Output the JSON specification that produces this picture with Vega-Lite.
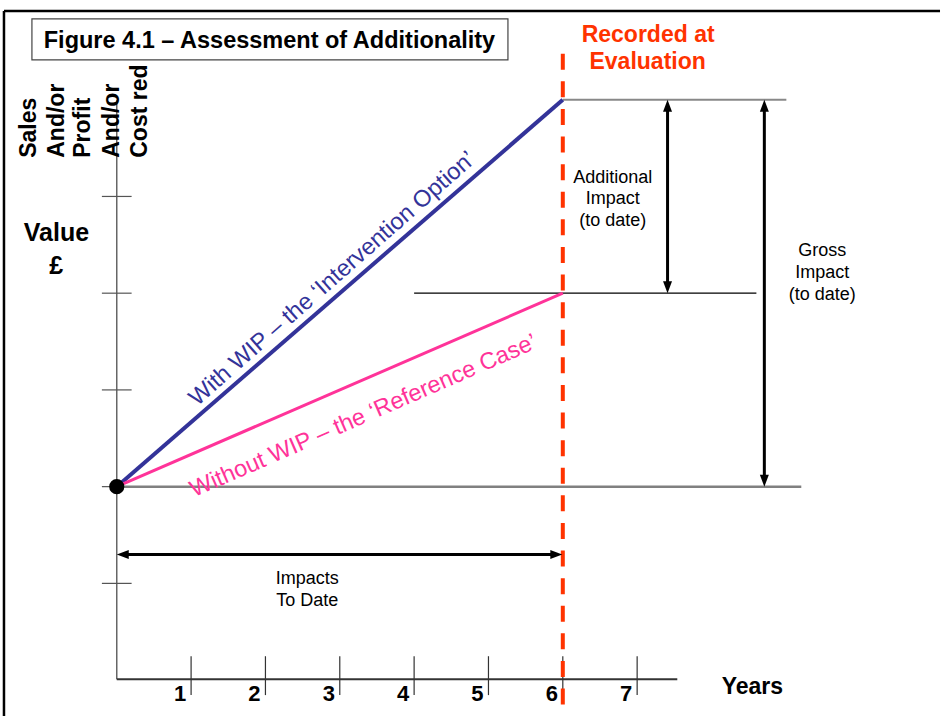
{
  "$schema": "https://vega.github.io/schema/vega-lite/v6.json",
  "width": 942,
  "height": 718,
  "padding": 0,
  "autosize": {"type": "fit", "contains": "padding"},
  "background": "white",
  "config": {"view": {"stroke": null}, "font": "Liberation Sans"},
  "datasets": {
    "border": [
      {"x": -1.517, "y": 4.918, "x2": 11.074, "y2": 4.918},
      {"x": -1.517, "y": 4.918, "x2": -1.517, "y2": -2.371}
    ],
    "titlebox": [{"x": -1.141, "y": 4.835, "x2": 5.262, "y2": 4.412}],
    "yaxis": [{"x": 0, "y": 4.0, "x2": 0, "y2": -1.99}],
    "xaxis": [{"x": 0, "y": -1.99, "x2": 7.54, "y2": -1.99}],
    "yticks": [
      {"x": -0.2, "y": 3, "x2": 0.2, "y2": 3},
      {"x": -0.2, "y": 2, "x2": 0.2, "y2": 2},
      {"x": -0.2, "y": 1, "x2": 0.2, "y2": 1},
      {"x": -0.2, "y": 0, "x2": 0.2, "y2": 0},
      {"x": -0.2, "y": -1, "x2": 0.2, "y2": -1}
    ],
    "xticks": [
      {"x": 1, "y": -1.753, "x2": 1, "y2": -2.155},
      {"x": 2, "y": -1.753, "x2": 2, "y2": -2.155},
      {"x": 3, "y": -1.753, "x2": 3, "y2": -2.155},
      {"x": 4, "y": -1.753, "x2": 4, "y2": -2.155},
      {"x": 5, "y": -1.753, "x2": 5, "y2": -2.155},
      {"x": 6, "y": -1.753, "x2": 6, "y2": -2.155},
      {"x": 7, "y": -1.753, "x2": 7, "y2": -2.155}
    ],
    "baseline": [{"x": 0, "y": 0, "x2": 9.208, "y2": 0}],
    "topline": [{"x": 6, "y": 4, "x2": 9.007, "y2": 4}],
    "midline": [{"x": 4, "y": 2, "x2": 8.604, "y2": 2}],
    "withwip": [{"x": 0, "y": 0, "x2": 6, "y2": 4}],
    "withoutwip": [{"x": 0, "y": 0, "x2": 6, "y2": 2}],
    "evaluation": [{"x": 6, "y": 4.475, "x2": 6, "y2": -2.371}],
    "shafts": [
      {"x": 7.409, "y": 3.9, "x2": 7.409, "y2": 2.1},
      {"x": 8.711, "y": 3.9, "x2": 8.711, "y2": 0.1},
      {"x": 0.1, "y": -0.701, "x2": 5.9, "y2": -0.701}
    ],
    "heads": [
      {"x": 7.409, "y": 4, "dir": "up"},
      {"x": 7.409, "y": 2, "dir": "down"},
      {"x": 8.711, "y": 4, "dir": "up"},
      {"x": 8.711, "y": 0, "dir": "down"},
      {"x": 0, "y": -0.701, "dir": "left"},
      {"x": 5.993, "y": -0.701, "dir": "right"}
    ],
    "origin": [{"x": 0, "y": 0}],
    "title": [{"x": 2.054, "y": 4.53, "label": "Figure 4.1 – Assessment of Additionality"}],
    "boldlabels": [
      {"x": -0.812, "y": 2.54, "label": "Value"},
      {"x": -0.815, "y": 2.2, "label": "£"}
    ],
    "years": [{"x": 8.55, "y": -2.144, "label": "Years"}],
    "ticklabels": [
      {"x": 0.852, "y": -2.216, "label": "1"},
      {"x": 1.852, "y": -2.216, "label": "2"},
      {"x": 2.852, "y": -2.216, "label": "3"},
      {"x": 3.852, "y": -2.216, "label": "4"},
      {"x": 4.852, "y": -2.216, "label": "5"},
      {"x": 5.852, "y": -2.216, "label": "6"},
      {"x": 6.852, "y": -2.216, "label": "7"}
    ],
    "ylabels": [
      {"x": -1.174, "y": 3.4, "label": "Sales"},
      {"x": -0.805, "y": 3.4, "label": "And/or"},
      {"x": -0.456, "y": 3.4, "label": "Profit"},
      {"x": -0.067, "y": 3.4, "label": "And/or"},
      {"x": 0.309, "y": 3.4, "label": "Cost red"}
    ],
    "recorded": [
      {"x": 7.148, "y": 4.601, "label": "Recorded at"},
      {"x": 7.141, "y": 4.316, "label": "Evaluation"}
    ],
    "notes": [
      {"x": 6.671, "y": 3.144, "label": "Additional"},
      {"x": 6.671, "y": 2.918, "label": "Impact"},
      {"x": 6.671, "y": 2.691, "label": "(to date)"},
      {"x": 9.49, "y": 2.385, "label": "Gross"},
      {"x": 9.49, "y": 2.155, "label": "Impact"},
      {"x": 9.49, "y": 1.928, "label": "(to date)"},
      {"x": 2.564, "y": -1.01, "label": "Impacts"},
      {"x": 2.564, "y": -1.237, "label": "To Date"}
    ],
    "withlabel": [{"x": 2.9, "y": 2.15, "label": "With WIP – the ‘Intervention Option’"}],
    "withoutlabel": [{"x": 3.32, "y": 0.73, "label": "Without WIP – the ‘Reference Case’"}]
  },
  "encoding": {
    "x": {"field": "x", "type": "quantitative", "axis": null,
          "scale": {"domain": [-1.5705, 11.0738], "nice": false, "zero": false}},
    "y": {"field": "y", "type": "quantitative", "axis": null,
          "scale": {"domain": [-2.3711, 5.0309], "nice": false, "zero": false}}
  },
  "layer": [
    {"data": {"name": "border"}, "mark": {"type": "rule", "color": "black", "strokeWidth": 2.5},
     "encoding": {"x2": {"field": "x2"}, "y2": {"field": "y2"}}},
    {"data": {"name": "titlebox"}, "mark": {"type": "rect", "fill": "white", "stroke": "#444444", "strokeWidth": 1.2},
     "encoding": {"x2": {"field": "x2"}, "y2": {"field": "y2"}}},
    {"data": {"name": "yaxis"}, "mark": {"type": "rule", "color": "#666666", "strokeWidth": 1.5},
     "encoding": {"x2": {"field": "x2"}, "y2": {"field": "y2"}}},
    {"data": {"name": "xaxis"}, "mark": {"type": "rule", "color": "#333333", "strokeWidth": 2},
     "encoding": {"x2": {"field": "x2"}, "y2": {"field": "y2"}}},
    {"data": {"name": "yticks"}, "mark": {"type": "rule", "color": "#555555", "strokeWidth": 1.2},
     "encoding": {"x2": {"field": "x2"}, "y2": {"field": "y2"}}},
    {"data": {"name": "xticks"}, "mark": {"type": "rule", "color": "#333333", "strokeWidth": 1.2},
     "encoding": {"x2": {"field": "x2"}, "y2": {"field": "y2"}}},
    {"data": {"name": "baseline"}, "mark": {"type": "rule", "color": "#808080", "strokeWidth": 2.5},
     "encoding": {"x2": {"field": "x2"}, "y2": {"field": "y2"}}},
    {"data": {"name": "topline"}, "mark": {"type": "rule", "color": "#888888", "strokeWidth": 2},
     "encoding": {"x2": {"field": "x2"}, "y2": {"field": "y2"}}},
    {"data": {"name": "midline"}, "mark": {"type": "rule", "color": "black", "strokeWidth": 1.2},
     "encoding": {"x2": {"field": "x2"}, "y2": {"field": "y2"}}},
    {"data": {"name": "withwip"}, "mark": {"type": "rule", "color": "#333399", "strokeWidth": 4},
     "encoding": {"x2": {"field": "x2"}, "y2": {"field": "y2"}}},
    {"data": {"name": "withoutwip"}, "mark": {"type": "rule", "color": "#FF3399", "strokeWidth": 3},
     "encoding": {"x2": {"field": "x2"}, "y2": {"field": "y2"}}},
    {"data": {"name": "evaluation"}, "mark": {"type": "rule", "color": "#FF3300", "strokeWidth": 4, "strokeDash": [16, 11.6]},
     "encoding": {"x2": {"field": "x2"}, "y2": {"field": "y2"}}},
    {"data": {"name": "shafts"}, "mark": {"type": "rule", "color": "black", "strokeWidth": 3},
     "encoding": {"x2": {"field": "x2"}, "y2": {"field": "y2"}}},
    {"data": {"name": "heads"}, "mark": {"type": "point", "filled": true, "color": "black", "opacity": 1, "size": 144},
     "encoding": {"shape": {"field": "dir", "type": "nominal", "legend": null,
       "scale": {"domain": ["up", "down", "left", "right"],
                 "range": ["M0,0L0.75,2L-0.75,2Z", "M0,0L0.75,-2L-0.75,-2Z", "M0,0L2,-0.75L2,0.75Z", "M0,0L-2,-0.75L-2,0.75Z"]}}}},
    {"data": {"name": "origin"}, "mark": {"type": "point", "filled": true, "color": "black", "opacity": 1, "size": 230, "shape": "circle"}},
    {"data": {"name": "title"}, "mark": {"type": "text", "font": "Liberation Sans", "fontWeight": "bold", "fontSize": 23.5, "align": "center", "baseline": "alphabetic", "color": "black"},
     "encoding": {"text": {"field": "label"}}},
    {"data": {"name": "boldlabels"}, "mark": {"type": "text", "font": "Liberation Sans", "fontWeight": "bold", "fontSize": 25, "align": "center", "baseline": "alphabetic", "color": "black"},
     "encoding": {"text": {"field": "label"}}},
    {"data": {"name": "years"}, "mark": {"type": "text", "font": "Liberation Sans", "fontWeight": "bold", "fontSize": 23, "align": "center", "baseline": "alphabetic", "color": "black"},
     "encoding": {"text": {"field": "label"}}},
    {"data": {"name": "ticklabels"}, "mark": {"type": "text", "font": "Liberation Sans", "fontWeight": "bold", "fontSize": 22, "align": "center", "baseline": "alphabetic", "color": "black"},
     "encoding": {"text": {"field": "label"}}},
    {"data": {"name": "ylabels"}, "mark": {"type": "text", "font": "Liberation Sans", "fontWeight": "bold", "fontSize": 23, "align": "left", "baseline": "middle", "angle": 270, "color": "black"},
     "encoding": {"text": {"field": "label"}}},
    {"data": {"name": "recorded"}, "mark": {"type": "text", "font": "Liberation Sans", "fontWeight": "bold", "fontSize": 23, "align": "center", "baseline": "alphabetic", "color": "#FF3300"},
     "encoding": {"text": {"field": "label"}}},
    {"data": {"name": "notes"}, "mark": {"type": "text", "font": "Liberation Sans", "fontSize": 18, "align": "center", "baseline": "alphabetic", "color": "black"},
     "encoding": {"text": {"field": "label"}}},
    {"data": {"name": "withlabel"}, "mark": {"type": "text", "font": "Liberation Sans", "fontSize": 23.5, "align": "center", "baseline": "middle", "angle": -41.3, "color": "#333399"},
     "encoding": {"text": {"field": "label"}}},
    {"data": {"name": "withoutlabel"}, "mark": {"type": "text", "font": "Liberation Sans", "fontSize": 23.5, "align": "center", "baseline": "middle", "angle": -23.5, "color": "#FF3399"},
     "encoding": {"text": {"field": "label"}}}
  ]
}
